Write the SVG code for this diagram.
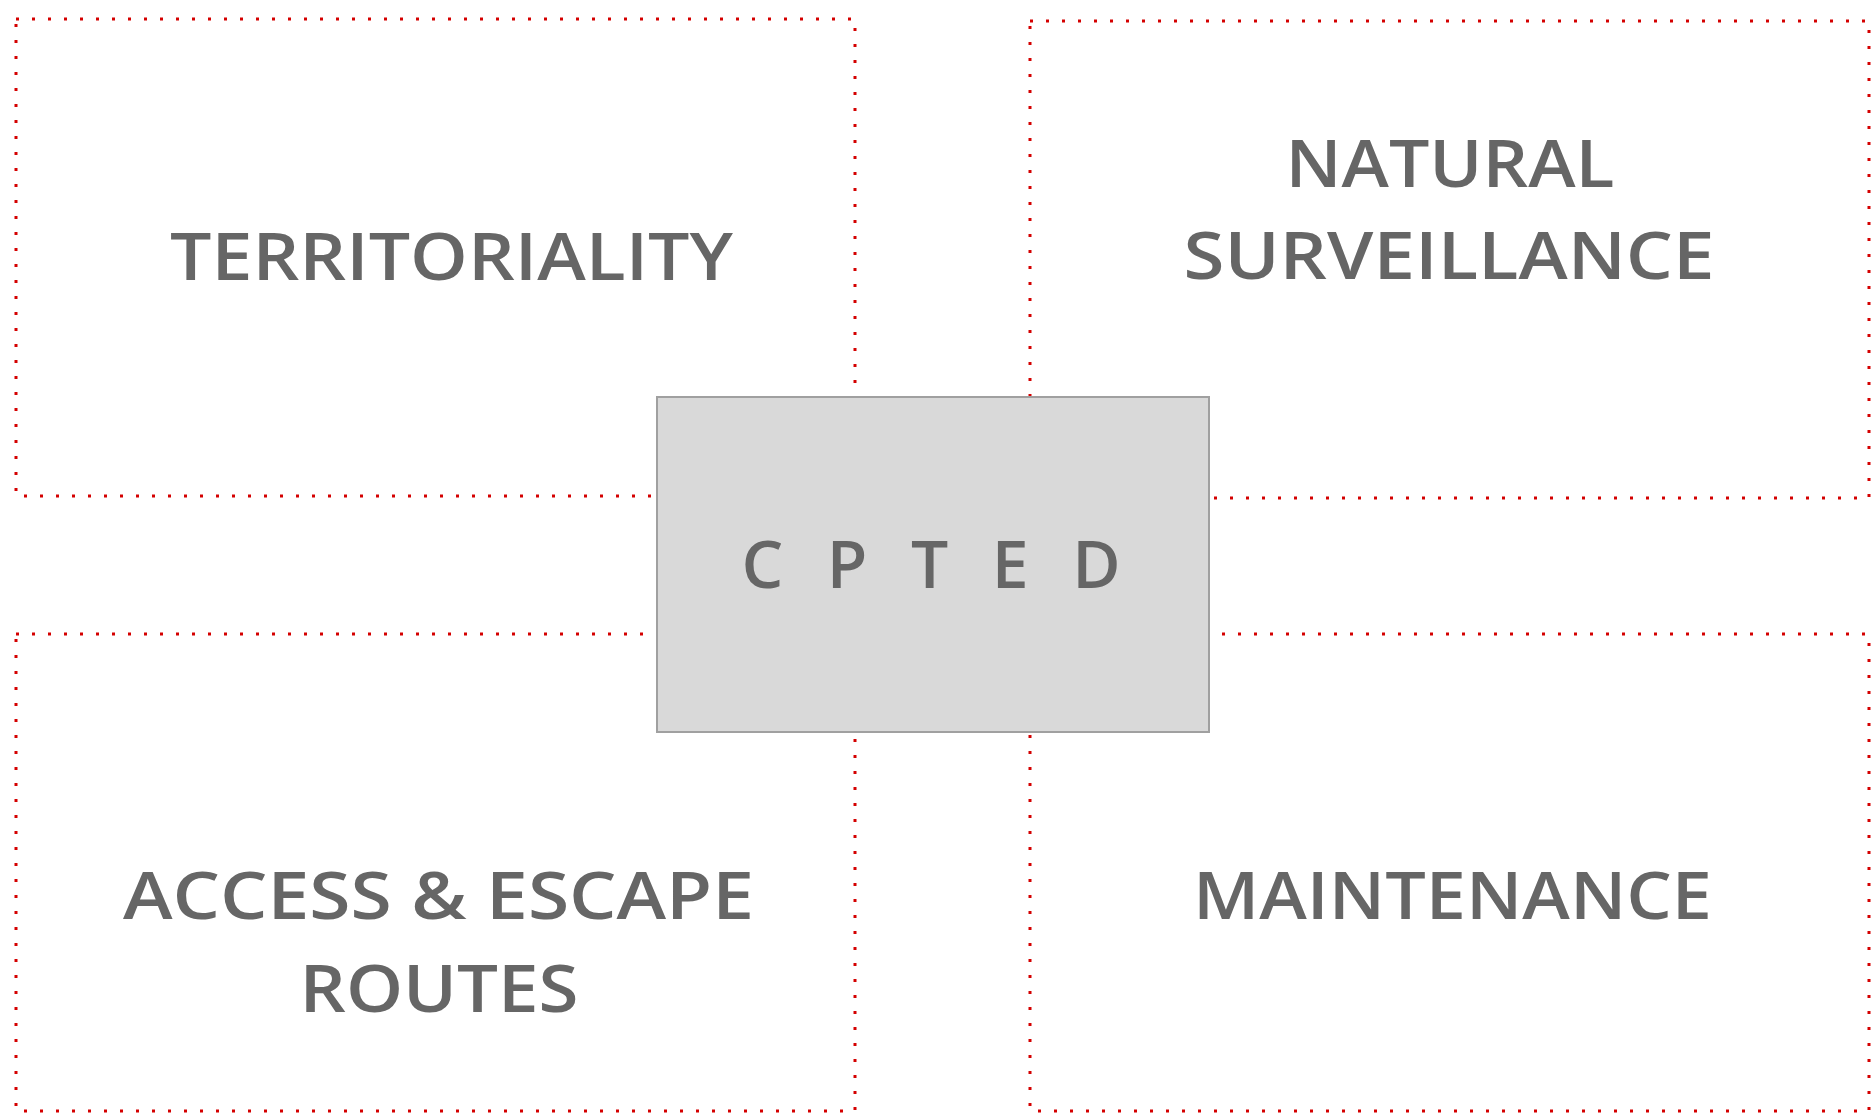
<svg xmlns="http://www.w3.org/2000/svg" width="1871" height="1119" viewBox="0 0 1871 1119">
<style>
.frame{fill:none;stroke:#d40000;stroke-width:3;stroke-dasharray:3 13}
.lbl{font-family:"Open Sans","Noto Sans","Liberation Sans",sans-serif;font-weight:600;font-size:66px;fill:#666666;text-anchor:middle}
.core{fill:#d9d9d9;stroke:#a0a0a0;stroke-width:2}
</style>
<rect width="1871" height="1119" fill="#ffffff"/>
<g id="territoriality">
<rect class="frame" x="16" y="19" width="839" height="477"/>
<text class="lbl" x="451.5" y="280" textLength="563" lengthAdjust="spacingAndGlyphs">TERRITORIALITY</text>
</g>
<g id="natural-surveillance">
<rect class="frame" x="1030" y="21" width="839" height="477"/>
<text class="lbl" x="1450" y="187" textLength="329" lengthAdjust="spacingAndGlyphs">NATURAL</text>
<text class="lbl" x="1449" y="279" textLength="531" lengthAdjust="spacingAndGlyphs">SURVEILLANCE</text>
</g>
<g id="access-escape">
<rect class="frame" x="16" y="634" width="839" height="477"/>
<text class="lbl" x="438.5" y="919" textLength="631" lengthAdjust="spacingAndGlyphs">ACCESS &amp; ESCAPE</text>
<text class="lbl" x="439" y="1012" textLength="279" lengthAdjust="spacingAndGlyphs">ROUTES</text>
</g>
<g id="maintenance">
<rect class="frame" x="1030" y="634" width="839" height="477"/>
<text class="lbl" x="1452.5" y="919" textLength="519" lengthAdjust="spacingAndGlyphs">MAINTENANCE</text>
</g>
<g id="cpted">
<rect class="core" x="657" y="397" width="552" height="335"/>
<text class="lbl" x="931" y="588" textLength="379" lengthAdjust="spacing">C P T E D</text>
</g>
<g id="connectors"></g>
</svg>
